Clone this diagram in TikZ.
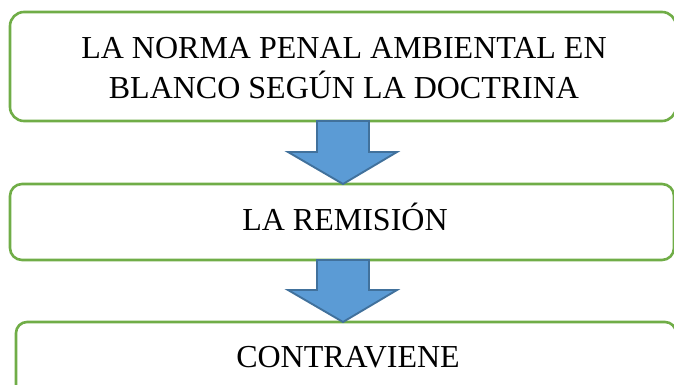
\documentclass[tikz,border=0pt]{standalone}
\usepackage{fontspec}
\setmainfont{Liberation Serif}
\usetikzlibrary{calc}
\begin{document}
\begin{tikzpicture}[x=1pt,y=-1pt,
  box/.style={draw=boxgreen,line width=2.6pt,rounded corners=14pt,fill=white},
  lbl/.style={font=\fontsize{32}{40}\selectfont,align=center,inner sep=0pt,anchor=base},
  blockarrow/.style={fill=arrowblue,draw=arrowedge,line width=1.9pt,line join=miter}]
\definecolor{boxgreen}{HTML}{70AD47}
\definecolor{arrowblue}{HTML}{5B9BD5}
\definecolor{arrowedge}{HTML}{41719C}
\useasboundingbox (0,0) rectangle (674,385);
% boxes
\draw[box] (10,12) rectangle (676,121);
\coordinate (b1s) at (343,121);
\node[lbl] (t1a) at (344,59) {LA NORMA PENAL AMBIENTAL EN};
\node[lbl] (t1b) at (344,99) {BLANCO SEGÚN LA DOCTRINA};
\draw[box,rounded corners=12pt] (10,184) rectangle (674,260);
\coordinate (b2n) at (343,184);
\coordinate (b2s) at (343,260);
\node[lbl] (t2) at (345,230) {LA REMISIÓN};
\draw[box,rounded corners=11pt] (16,322) rectangle (676,400);
\coordinate (b3n) at (343,322);
\node[lbl] (t3) at (348,367) {CONTRAVIENE};
% block arrows
\draw[blockarrow] ($(b1s)+(-26,0)$) -- ++(52,0) -- ++(0,31) -- ++(28,0) -- (b2n) -- ++(-55,-32) -- ++(29,0) -- cycle;
\draw[blockarrow] ($(b2s)+(-26,0)$) -- ++(52,0) -- ++(0,30) -- ++(28,0) -- (b3n) -- ++(-55,-32) -- ++(29,0) -- cycle;
\end{tikzpicture}
\end{document}
